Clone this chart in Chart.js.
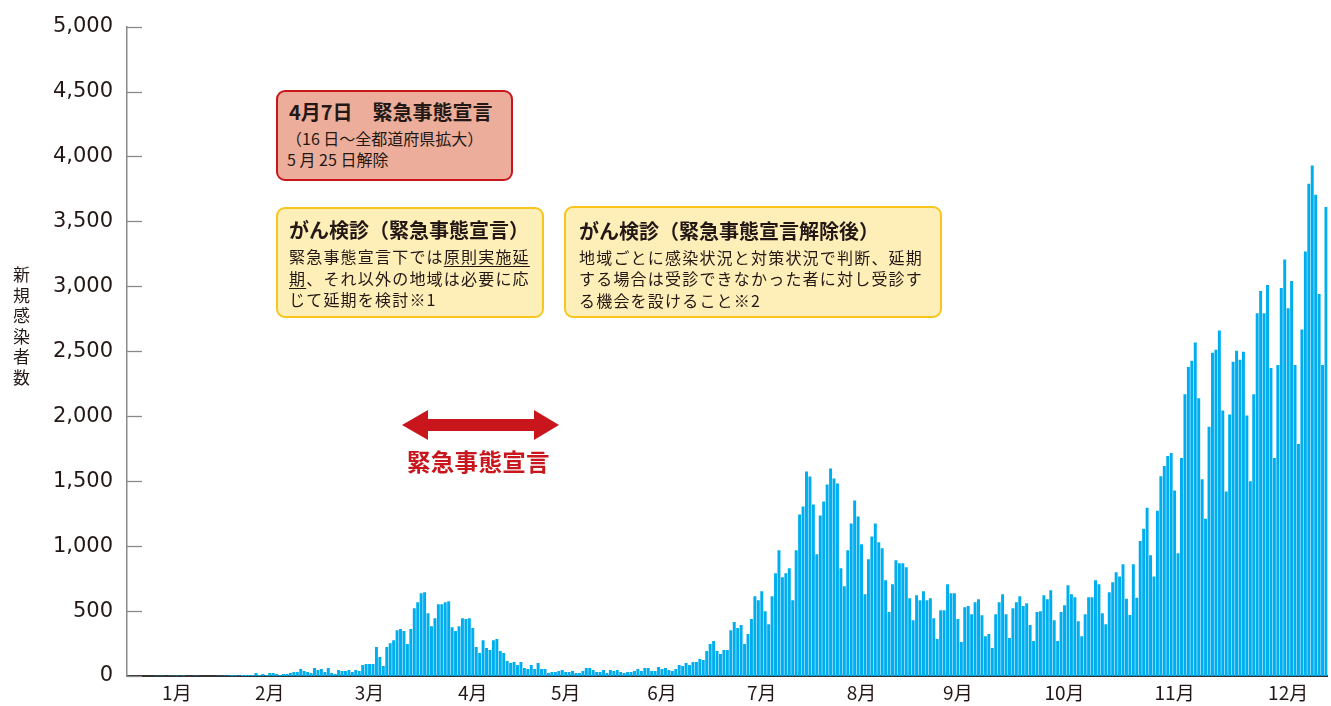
<!DOCTYPE html>
<html><head><meta charset="utf-8">
<script src="https://cdn.jsdelivr.net/npm/chart.js@4.4.1/dist/chart.umd.min.js"></script>
<style>
html,body{margin:0;padding:0;background:#fff;}
#wrap{position:relative;width:1331px;height:706px;overflow:hidden;}
#c{position:absolute;left:0;top:0;}
.box{position:absolute;box-sizing:border-box;border-radius:9px;}
.red{left:276px;top:90px;width:237px;height:91px;background:#ecae9a;border:2px solid #c9161d;}
.yel{background:#feeeb8;border:2px solid #f8c51c;}
.ln{position:absolute;white-space:nowrap;font-family:'Noto Sans CJK JP';color:#231815;}
.t{font-size:20px;font-weight:bold;line-height:24px;height:24px;}
.b{font-size:16px;line-height:20px;height:20px;}
.y{letter-spacing:1.2px;}
.u{text-decoration:underline;text-underline-offset:3px;}
#ytitle{position:absolute;left:11px;top:266px;font-family:'Noto Sans CJK JP';font-size:17px;line-height:20px;writing-mode:vertical-rl;letter-spacing:3.6px;color:#231815;}
#emtext{position:absolute;left:407px;top:446px;font-family:'Noto Sans CJK JP';font-weight:bold;font-size:23.5px;line-height:30px;color:#c9161d;letter-spacing:0.3px;}
#arrow{position:absolute;left:0;top:0;}
</style></head>
<body>
<div id="wrap">
<canvas id="c" width="1331" height="706"></canvas>
<div id="ytitle">新規感染者数</div>

<div class="box red"></div>
<div class="ln t" style="left:289px;top:100px;">4月7日　緊急事態宣言</div>
<div class="ln b" style="left:286px;top:128px;">（16 日～全都道府県拡大）</div>
<div class="ln b" style="left:287px;top:149px;">5 月 25 日解除</div>

<div class="box yel" style="left:276px;top:207px;width:268px;height:111px;"></div>
<div class="ln t" style="left:289px;top:218px;">がん検診（緊急事態宣言）</div>
<div class="ln b y" style="left:289px;top:246px;">緊急事態宣言下では<span class="u">原則実施延</span></div>
<div class="ln b y" style="left:289px;top:267.5px;"><span class="u">期</span>、それ以外の地域は必要に応</div>
<div class="ln b y" style="left:289px;top:289px;">じて延期を検討※1</div>

<div class="box yel" style="left:564px;top:206px;width:378px;height:112px;"></div>
<div class="ln t" style="left:579px;top:219px;">がん検診（緊急事態宣言解除後）</div>
<div class="ln b y" style="left:579px;top:246.5px;">地域ごとに感染状況と対策状況で判断、延期</div>
<div class="ln b y" style="left:579px;top:268px;">する場合は受診できなかった者に対し受診す</div>
<div class="ln b y" style="left:579px;top:289.5px;">る機会を設けること※2</div>

<svg id="arrow" width="1331" height="706"><polygon fill="#c9161d" points="402,425 428,410 428,419 534,419 534,410 559,425 534,440 534,431 428,431 428,440"/></svg>
<div id="emtext">緊急事態宣言</div>
</div>
<script>
// Daily new cases, 16 Jan 2020 – 29 Dec 2020
const casesJanFeb = [1,0,0,0,0,0,0,0,1,1,1,0,2,1,4,2,3,0,0,1,1,0,0,0,0,0,1,1,3,4,8,5,4];
const casesFebApr = [8,8,8,8,23,8,15,8,23,23,15,8,15,15,23,31,31,54,38,31,23,61,46,54,31,61,23,15,46,38,38,46,31,46,38,84,92,92,92,223,146,77,223,253,276,353,361,346,246,361,522,568,637,645,484,384,445,553];
const casesAprJul = [553,568,576,376,346,384,445,438,445,369,223,177,276,215,200,276,284,192,177,115,100,108,84,108,61,54,84,54,100,54,54,23,31,31,38,46,31,31,38,23,23,38,61,61,46,31,31,46,23,46,38,46,31,23,31,31,38,54,38,61,61,38,38,69,54,61,46,38,54,84,77,100,84,108,108,130];
const casesJulSep = [123,192,246,269,192,169,200,200,353,415,369,392,246,323,438,614,584,653,499,399,614,791,968,760,791,829,584,968,1244,1306,1574,1536,1321,937,1236,1344,1475,1597,1521,1482,829,691,968,1175,1352,1229,1014,630,899,1075,1175,1029,983,737,492,707,891,868,868,837,599,430,622,584,653,584,599,445,284];
const casesSepOct = [507,507,707,637,637,438,261,530,538,476,568,591,468,307,323,215,476,568,630,476,292,522,568,614,538,561,392,269,492,499,622,591,660,430,269,492,545,699,630,607,422,307,476,607,607,737,707,484,399,645,722,799];
const casesOctDec = [766,860,595,470,860,603,1039,1133,1296,930,766,1273,1538,1616,1694,1717,1429,946,1678,2169,2380,2427,2567,2138,1515,1211,1920,2489,2512,2660,2045,1421,2013,2419,2504,2434,2497,2006,1499,2169,2793,2964,2793,3011,2372,1678,2395,2988,3206,2832,3042,2395,1787,2668,3268,3790,3931,3705,2941,2395,3611];
const newCases = [].concat(casesJanFeb, casesFebApr, casesAprJul, casesJulSep, casesSepOct, casesOctDec);

// categories: one per day
const days = [];
{ const d = new Date(2020, 0, 16); for (let i = 0; i < newCases.length; i++) { days.push((d.getMonth()+1) + '/' + d.getDate()); d.setDate(d.getDate()+1); } }

// month tick labels and the day under which the reference prints them
const monthTickDays = ['1/30','2/26','3/26','4/25','5/22','6/19','7/18','8/16','9/13','10/14','11/15','12/18'];
const monthTickLabels = ['1月','2月','3月','4月','5月','6月','7月','8月','9月','10月','11月','12月'];
const yTicks = [0,500,1000,1500,2000,2500,3000,3500,4000,4500,5000];

const innerTicks = {
  id: 'innerTicks',
  afterDraw(chart) {
    const ys = chart.scales.y, ctx = chart.ctx, left = chart.chartArea.left;
    ctx.save(); ctx.strokeStyle = '#8a8a8a'; ctx.lineWidth = 1.3;
    yTicks.forEach(v => { const py = Math.round(ys.getPixelForValue(v)) + 0.5; ctx.beginPath(); ctx.moveTo(left, py); ctx.lineTo(left + 15, py); ctx.stroke(); });
    ctx.restore();
  }
};

new Chart(document.getElementById('c'), {
  type: 'bar',
  data: { labels: days, datasets: [{ data: newCases, backgroundColor: '#00aeef', borderWidth: 0, barPercentage: 0.86, categoryPercentage: 1.0 }] },
  options: {
    responsive: false, animation: false, devicePixelRatio: 1,
    layout: { padding: { top: 25, right: 0, bottom: 0, left: 0 } },
    plugins: { legend: { display: false }, tooltip: { enabled: false } },
    scales: {
      x: {
        grid: { display: false, drawTicks: false },
        border: { color: '#333', width: 2 },
        ticks: { autoSkip: false, maxRotation: 0, minRotation: 0, padding: 5, color: '#231815',
          font: { family: "'Noto Sans CJK JP'", size: 19 },
          callback: (v, i) => { const k = monthTickDays.indexOf(days[i]); return k >= 0 ? monthTickLabels[k] : ''; } },
        afterFit: s => { s.height = 30; }
      },
      y: {
        min: 0, max: 5000,
        afterBuildTicks: s => { s.ticks = yTicks.map(v => ({ value: v })); },
        grid: { display: false, drawTicks: false },
        border: { color: '#8a8a8a', width: 1.5 },
        ticks: { padding: 14, color: '#231815', font: { family: "'DejaVu Sans'", size: 21 },
          callback: v => v.toLocaleString('en-US') },
        afterFit: s => { s.width = 127; }
      }
    }
  },
  plugins: [innerTicks]
});
</script>
</body></html>
